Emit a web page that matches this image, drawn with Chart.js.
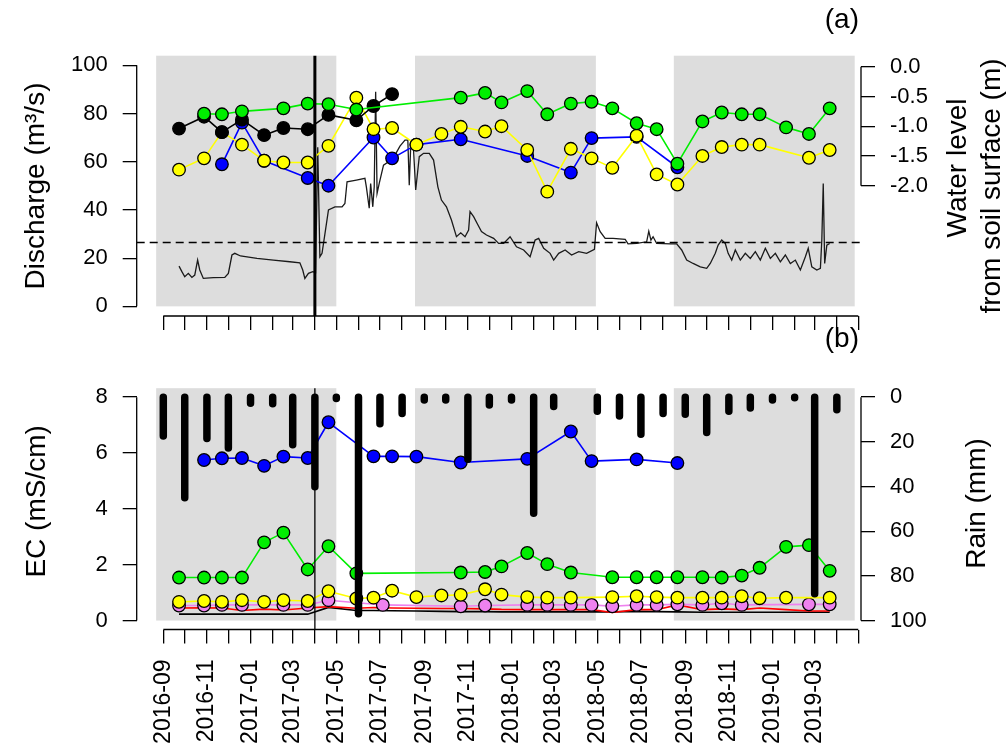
<!DOCTYPE html>
<html>
<head>
<meta charset="utf-8">
<script src="https://cdn.jsdelivr.net/npm/chart.js@4/dist/chart.umd.min.js"></script>
<style>
  html, body { margin: 0; padding: 0; background: #fff; }
  body { width: 1006px; height: 751px; position: relative; overflow: hidden; }
  canvas { position: absolute; left: 0; }
  #panelA { top: 0; }
  #panelB { top: 360px; }
</style>
</head>
<body>
<canvas id="panelA" width="1006" height="360"></canvas>
<canvas id="panelB" width="1006" height="391"></canvas>
<script>
const FONT = "'Liberation Sans', Arial, sans-serif";

// field campaigns (water level + EC)
const sampleDates = ['2016-09-23','2016-10-28','2016-11-22','2016-12-20','2017-01-20','2017-02-16','2017-03-22','2017-04-20',
  '2017-05-29','2017-06-22','2017-07-05','2017-07-18','2017-08-21','2017-09-25','2017-10-22','2017-11-25','2017-12-18',
  '2018-01-23','2018-02-20','2018-03-25','2018-04-23','2018-05-22','2018-06-25','2018-07-23','2018-08-21','2018-09-25',
  '2018-10-22','2018-11-19','2018-12-14','2019-01-20','2019-02-21','2019-03-22'];

// water level from soil surface (m)
const wlBlack  = [-1.04,-0.84,-1.10,-0.89,-1.15,-1.03,-1.05,-0.81,-0.90,-0.66,null,-0.46,null,null,null,null,null,null,null,null,null,null,null,null,null,null,null,null,null,null,null,null];
const wlGreen  = [null,-0.79,-0.80,-0.75,null,-0.70,-0.62,-0.63,-0.72,null,null,null,null,null,-0.52,-0.44,-0.60,-0.41,-0.80,-0.62,-0.59,-0.70,-0.95,-1.05,-1.63,-0.92,-0.77,-0.80,-0.80,-1.02,-1.13,-0.70];
const wlYellow = [-1.73,-1.54,-1.10,-1.31,-1.58,-1.61,-1.61,-1.33,-0.52,-1.05,null,-1.03,-1.31,-1.13,-1.01,-1.09,-1.00,-1.40,-2.10,-1.38,-1.54,-1.70,-1.16,-1.81,-1.98,-1.50,-1.35,-1.31,-1.31,null,-1.53,-1.40];
const wlBlue   = [null,null,-1.64,-0.94,-1.58,null,-1.87,-2.00,null,-1.19,null,-1.54,-1.31,null,-1.22,null,null,-1.50,null,-1.78,-1.20,null,-1.18,null,-1.69,null,null,null,null,null,null,null];

// EC (mS/cm)
const ecBlue   = [null,5.75,5.81,5.82,5.54,5.87,5.82,7.10,null,5.88,null,5.88,5.87,null,5.66,null,null,5.79,null,6.77,5.71,null,5.77,null,5.64,null,null,null,null,null,null,null];
const ecGreen  = [1.54,1.54,1.54,1.54,2.80,3.15,1.83,2.66,1.69,null,null,null,null,null,1.72,1.74,1.94,2.42,2.02,1.72,null,1.55,1.55,1.55,1.55,1.55,1.54,1.61,1.89,2.64,2.70,1.78];
const ecYellow = [0.67,0.70,0.67,0.73,0.67,0.73,0.70,1.05,0.79,0.82,null,1.07,0.84,0.90,0.92,1.12,0.93,0.84,0.82,0.82,null,0.84,0.87,0.84,0.82,0.82,0.82,0.87,0.80,0.82,null,0.82];
const ecViolet = [0.54,0.54,0.56,0.56,null,0.56,0.56,0.73,null,null,0.56,null,null,null,0.51,0.54,null,0.56,0.56,0.56,0.56,0.51,0.56,0.56,0.58,0.56,0.62,0.56,null,null,0.58,0.58];
const ecRed    = [0.45,0.46,0.45,0.36,0.41,0.38,0.45,0.50,0.44,0.47,null,0.45,0.44,0.43,0.43,0.42,0.40,0.39,0.39,0.39,0.39,0.29,0.39,0.39,0.56,0.39,0.42,0.39,0.45,0.39,0.34,0.34];
const ecBlack  = [0.23,0.23,0.23,0.23,0.23,0.23,0.23,0.47,0.36,0.36,null,0.35,0.34,0.33,0.32,0.32,0.31,0.31,0.31,0.31,0.31,0.31,0.33,0.32,0.31,0.30,0.30,0.30,0.30,0.30,0.30,0.30];

// discharge (m3/s), day = days after 2016-09-01
const dischargeDay = [22,26,30,35,40,44,48,51,56,70,86,91,96,100,108,131,154,177,191,195,198,203,209,213,216,219,222,226,231,240,
  250,254,257,270,282,284,288,290,293,295,297,299,302,308,315,324,331,338,342,344,346,350,353,358,364,372,378,384,389,396,
  403,410,416,422,427,429,434,439,445,452,462,469,476,485,494,504,513,520,525,532,541,546,553,562,571,581,592,603,606,611,
  618,629,646,650,662,676,679,682,685,690,709,718,725,732,741,751,760,765,772,776,781,786,790,795,800,807,814,821,828,835,
  842,849,856,863,870,877,884,891,898,902,907,914,919,921,923,925,928,932];
const dischargeVal = [16.7,14.4,12.3,13.7,12.0,13.0,19.2,15.1,11.6,11.9,12.0,13.7,21.3,22.0,20.9,19.9,19.2,18.5,18.1,15.1,11.6,13.7,14.4,14.0,66,20.6,22,30,40,41.3,
  41.3,42.7,51.7,52.4,53.1,49.6,40.7,51,41.3,49.6,89,46.9,51,58.6,60,62.8,66.5,69,69,50.3,66.2,64.9,48.3,62.1,63.5,63.5,60.7,49.6,44.1,41.3,
  35.8,28.9,30.5,28.9,31.7,39.3,37.2,34.4,31,29.6,28.2,26.1,26.1,28.9,24.7,23.4,20.6,27.5,28.2,24.1,22,19.2,22,23.4,21.3,22.7,22,23.7,34.7,31,
  28.2,28.2,27.8,25.9,26.1,26.8,31.2,27.5,28.9,26.1,25.9,25.9,23.4,19.2,17.8,16.4,15.8,17.8,22,25.4,27.5,26.1,22,19.2,23.4,19.2,22,19.9,22.7,19.2,
  24.1,19.9,22,18.5,21.3,17.8,19.2,15.1,20.6,24.1,16.4,15.1,15.8,27.5,51,17.8,25.4,26.1];
const dischargeThreshold = 26.5;

// monthly rain (mm)
const rainMonths = ['2016-09','2016-10','2016-11','2016-12','2017-01','2017-02','2017-03','2017-04','2017-05','2017-06','2017-07',
  '2017-08','2017-09','2017-10','2017-11','2017-12','2018-01','2018-02','2018-03','2018-04','2018-05','2018-06','2018-07',
  '2018-08','2018-09','2018-10','2018-11','2018-12','2019-01','2019-02','2019-03','2019-04'];
const rainMm = [17.4,45,18.5,22.8,2.7,3.0,21.3,40.1,0.6,97,11.9,7.3,1.3,1.3,27.8,3.5,1.3,52,4.2,null,6.3,8.4,16.6,7.3,7.7,15.8,6.3,4.9,1.3,0.3,88,5.6];

// shaded seasons and event marker
const seasons = [['2016-08-22','2017-05-01'], ['2017-08-19','2018-04-29'], ['2018-08-16','2019-04-26']];
const markerDate = '2017-04-01';

// axes
const xLabels = ['2016-09','2016-11','2017-01','2017-03','2017-05','2017-07','2017-09','2017-11',
  '2018-01','2018-03','2018-05','2018-07','2018-09','2018-11','2019-01','2019-03'];
const qTicks = [0, 20, 40, 60, 80, 100];
const wlTicks = [-2, -1.5, -1, -0.5, 0];
const ecTicks = [0, 2, 4, 6, 8];
const rainTicks = [0, 20, 40, 60, 80, 100];

function toDay(s) {
  const p = s.split('-').map(Number);
  return (Date.UTC(p[0], p[1] - 1, p[2] || 1) - Date.UTC(2016, 8, 1)) / 864e5;
}
const monthNames = [];
for (let y = 2016, m = 9; y < 2019 || m <= 5; m++) {
  if (m > 12) { m = 1; y++; }
  monthNames.push(y + '-' + String(m).padStart(2, '0'));
}
const monthTicks = monthNames.map(toDay);
const X_MIN = -37.2, X_MAX = 975.8;

function pts(vals) { return sampleDates.map((d, i) => ({x: toDay(d), y: vals[i]})); }

function pointSet(vals, color, axis, order) {
  return {
    data: pts(vals), yAxisID: axis, borderColor: color, backgroundColor: color,
    borderWidth: 1.6, pointRadius: 6.3, pointBorderColor: '#000', pointBorderWidth: 1.3,
    pointBackgroundColor: color, spanGaps: true, order: order, borderJoinStyle: 'round'
  };
}
function lineSet(vals, color, axis, order) {
  return { data: pts(vals), yAxisID: axis, borderColor: color, borderWidth: 1.6, pointRadius: 0, spanGaps: true, order: order };
}

const tickGrid = { drawOnChartArea: false, drawTicks: true, tickLength: 14, color: '#000', lineWidth: 1.3 };
const tickFont = { family: FONT, size: 22 };

function yAxis(pos, min, max, ticks, width, fmt, reverse) {
  return {
    type: 'linear', position: pos, min: min, max: max, reverse: !!reverse,
    afterBuildTicks: s => { s.ticks = ticks.map(v => ({value: v})); },
    afterFit: s => { s.width = width; },
    grid: tickGrid, border: { display: false },
    ticks: { font: tickFont, color: '#000', padding: 15, callback: fmt || (v => String(v)) }
  };
}
function xAxis(height, showLabels) {
  return {
    type: 'linear', min: X_MIN, max: X_MAX,
    afterBuildTicks: s => { s.ticks = monthTicks.map(v => ({value: v})); },
    afterFit: s => { s.height = height; },
    grid: tickGrid, border: { display: false },
    ticks: {
      display: showLabels, autoSkip: false, minRotation: 90, maxRotation: 90, padding: 16,
      font: { family: FONT, size: 23 }, color: '#000',
      callback: (v, i) => xLabels.includes(monthNames[i]) ? monthNames[i] : ''
    }
  };
}

function framePlugin(cfg) {
  return {
    id: 'frame',
    beforeDatasetsDraw(chart) {
      const {ctx, chartArea: a, scales} = chart;
      const y0 = scales[cfg.left.id].getPixelForValue(0);
      ctx.save();
      ctx.fillStyle = '#DDDDDD';
      seasons.forEach(([s, e]) => {
        const x0 = scales.x.getPixelForValue(toDay(s));
        const x1 = scales.x.getPixelForValue(toDay(e));
        ctx.fillRect(x0, a.top, x1 - x0, y0 - a.top);
      });
      ctx.restore();
    },
    afterDatasetsDraw(chart) {
      const {ctx, chartArea: a, scales} = chart;
      ctx.save();
      ctx.strokeStyle = '#000';
      const mx = scales.x.getPixelForValue(toDay(markerDate));
      ctx.lineWidth = cfg.markerWidth;
      ctx.beginPath(); ctx.moveTo(mx, a.top); ctx.lineTo(mx, a.bottom); ctx.stroke();
      ctx.lineWidth = 1.3;
      ctx.beginPath();
      const L = scales[cfg.left.id], R = scales[cfg.right.id];
      ctx.moveTo(a.left, L.getPixelForValue(cfg.left.from)); ctx.lineTo(a.left, L.getPixelForValue(cfg.left.to));
      ctx.moveTo(a.right, R.getPixelForValue(cfg.right.from)); ctx.lineTo(a.right, R.getPixelForValue(cfg.right.to));
      ctx.moveTo(scales.x.getPixelForValue(monthTicks[0]), a.bottom);
      ctx.lineTo(scales.x.getPixelForValue(monthTicks[monthTicks.length - 1]), a.bottom);
      ctx.stroke();
      ctx.restore();
    }
  };
}

function textPlugin(items) {
  return {
    id: 'texts',
    afterDraw(chart) {
      const ctx = chart.ctx;
      items.forEach(t => {
        ctx.save();
        ctx.font = t.size + 'px ' + FONT;
        ctx.fillStyle = '#000';
        ctx.textAlign = t.align || 'center';
        ctx.textBaseline = 'alphabetic';
        ctx.translate(t.x, t.y);
        if (t.rot) ctx.rotate(t.rot);
        ctx.fillText(t.text, 0, 0);
        ctx.restore();
      });
    }
  };
}

Chart.defaults.font.family = FONT;
const baseOptions = {
  responsive: false, animation: false, events: [],
  plugins: { legend: { display: false }, tooltip: { enabled: false } }
};

// panel (a)
new Chart(document.getElementById('panelA'), {
  type: 'line',
  data: {
    datasets: [
      pointSet(wlGreen, '#00EE00', 'yW', 0),
      pointSet(wlBlack, '#000000', 'yW', 1),
      pointSet(wlYellow, '#FFFF00', 'yW', 2),
      pointSet(wlBlue, '#0000FF', 'yW', 3),
      { data: [{x: X_MIN, y: dischargeThreshold}, {x: X_MAX, y: dischargeThreshold}], yAxisID: 'yQ',
        borderColor: '#000', borderWidth: 1.5, borderDash: [8, 5], pointRadius: 0, order: 4 },
      { data: dischargeDay.map((d, i) => ({x: d, y: dischargeVal[i]})), yAxisID: 'yQ',
        borderColor: '#1a1a1a', borderWidth: 1.3, pointRadius: 0, order: 5 }
    ]
  },
  options: Object.assign({}, baseOptions, {
    layout: { padding: { top: 55.7, left: 0, right: 0, bottom: 0 } },
    scales: {
      x: xAxis(44, false),
      yQ: yAxis('left', -4, 104, qTicks, 136.7),
      yW: yAxis('right', -4.19, 0.185, wlTicks, 145, v => v.toFixed(1))
    }
  }),
  plugins: [
    framePlugin({ left: {id: 'yQ', from: 0, to: 100}, right: {id: 'yW', from: 0, to: -2}, markerWidth: 3 }),
    textPlugin([
      { text: 'Discharge (m³/s)', x: 44, y: 186, rot: -Math.PI / 2, size: 28 },
      { text: 'Water level', x: 966, y: 168, rot: -Math.PI / 2, size: 28 },
      { text: 'from soil surface (m)', x: 1000, y: 186, rot: -Math.PI / 2, size: 28 },
      { text: '(a)', x: 859, y: 28, align: 'right', size: 28 },
      { text: '(b)', x: 859, y: 347, align: 'right', size: 28 }
    ])
  ]
});

// panel (b)
const rainData = [];
rainMonths.forEach((m, i) => {
  if (rainMm[i] == null) return;
  const x = toDay(m + '-01');
  rainData.push({x: x, y: 0}, {x: x, y: rainMm[i]}, {x: x, y: null});
});

new Chart(document.getElementById('panelB'), {
  type: 'line',
  data: {
    datasets: [
      { data: rainData, yAxisID: 'yR', borderColor: '#000', borderWidth: 7.5, borderCapStyle: 'round',
        pointRadius: 0, spanGaps: false, order: 0 },
      pointSet(ecBlue, '#0000FF', 'yE', 1),
      pointSet(ecGreen, '#00EE00', 'yE', 2),
      pointSet(ecYellow, '#FFFF00', 'yE', 3),
      pointSet(ecViolet, '#EE82EE', 'yE', 4),
      lineSet(ecRed, '#FF0000', 'yE', 5),
      lineSet(ecBlack, '#000000', 'yE', 6)
    ]
  },
  options: Object.assign({}, baseOptions, {
    layout: { padding: { top: 13.2, left: 0, right: 0, bottom: 0 } },
    scales: {
      x: xAxis(121.5, true),
      yE: yAxis('left', -0.32, 8.32, ecTicks, 136.7),
      yR: yAxis('right', -4, 104, rainTicks, 145, null, true)
    }
  }),
  plugins: [
    framePlugin({ left: {id: 'yE', from: 0, to: 8}, right: {id: 'yR', from: 0, to: 100}, markerWidth: 1.3 }),
    textPlugin([
      { text: 'EC (mS/cm)', x: 45, y: 141.4, rot: -Math.PI / 2, size: 28 },
      { text: 'Rain (mm)', x: 985, y: 143.5, rot: -Math.PI / 2, size: 28 }
    ])
  ]
});
</script>
</body>
</html>
